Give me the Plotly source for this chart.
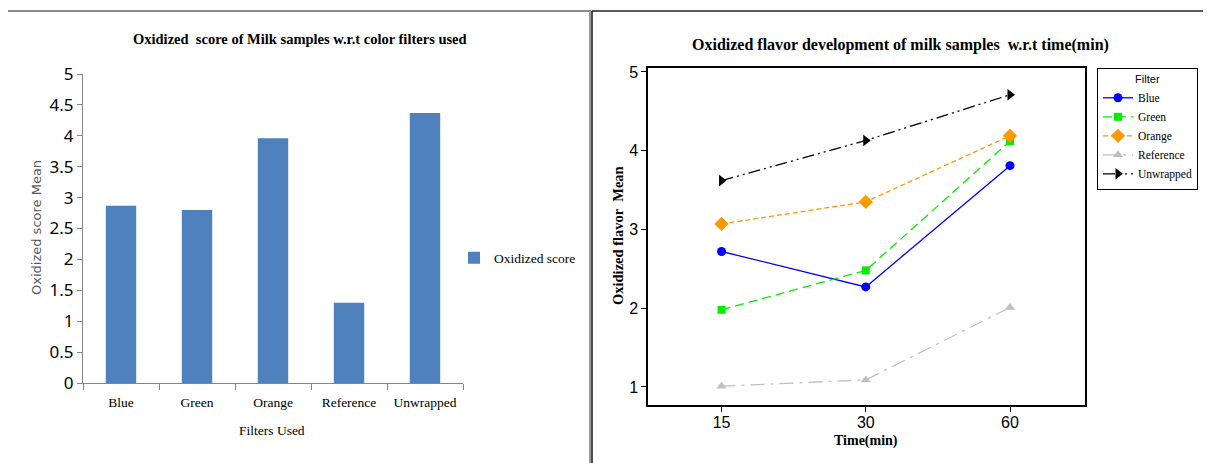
import plotly.graph_objects as go

W, H = 1211, 463
OFF = 8  # default page body margin

# ---- data ----
filters = ["Blue", "Green", "Orange", "Reference", "Unwrapped"]
oxidized_score = [2.87, 2.80, 3.96, 1.30, 4.37]

times = ["15", "30", "60"]
blue_flavor = [2.72, 2.27, 3.81]
green_flavor = [1.98, 2.48, 4.12]
orange_flavor = [3.07, 3.35, 4.19]
reference_flavor = [1.01, 1.09, 2.01]
unwrapped_flavor = [3.62, 4.13, 4.71]


def px(x):
    return (x - OFF) / W


def py(y):
    return 1 - (y - OFF) / H


SERIF = "Liberation Serif, Times New Roman, serif"
SANS = "Liberation Sans, Arial, sans-serif"
NARROW = "Liberation Sans Narrow, Liberation Sans, sans-serif"

fig = go.Figure()

# Left: bar chart
fig.add_trace(go.Bar(
    x=filters, y=oxidized_score, name="Oxidized score",
    marker=dict(color="#4F81BD", line=dict(width=0)),
    width=0.4, xaxis="x", yaxis="y", legend="legend2",
))

# Right: line chart
series = [
    ("Blue", blue_flavor, "#0000FF", "solid", "circle", 9),
    ("Green", green_flavor, "#00EE00", "9px,5px", "square", 8),
    ("Orange", orange_flavor, "#FF9900", "5px,3px", "diamond", 11),
    ("Reference", reference_flavor, "#C0C0C0", "14px,6px,3px,6px", "triangle-up", 9),
    ("Unwrapped", unwrapped_flavor, "#000000", "12px,4px,2px,4px,2px,4px", "triangle-right", 10),
]
for name, vals, col, dash, sym, sz in series:
    fig.add_trace(go.Scatter(
        x=times, y=vals, name=name, mode="lines+markers",
        line=dict(color=col, width=1.3, dash=dash),
        marker=dict(symbol=sym, size=sz, color=col),
        xaxis="x2", yaxis="y2", legend="legend",
    ))

fig.update_layout(
    width=W, height=H,
    margin=dict(l=0, r=0, t=0, b=0, autoexpand=False),
    paper_bgcolor="white", plot_bgcolor="white",
    showlegend=True,
    xaxis=dict(
        domain=[px(83), px(463)], type="category", automargin=False,
        showline=True, linecolor="#868686", linewidth=1,
        ticks="outside", ticklen=6, tickcolor="#868686", tickson="boundaries",
        ticklabelstandoff=7,
        showgrid=False, zeroline=False,
        tickfont=dict(family=SERIF, size=13.5, color="#000"),
        anchor="y",
    ),
    yaxis=dict(
        domain=[py(383), py(74)], range=[0, 5], dtick=0.5, automargin=False,
        showline=True, linecolor="#868686", linewidth=1,
        ticks="outside", ticklen=5, tickcolor="#868686",
        showgrid=False, zeroline=False,
        tickfont=dict(family="Liberation Sans Narrow, Noto Sans, sans-serif", size=17, color="#000"),
        anchor="x",
    ),
    xaxis2=dict(
        domain=[px(648), px(1085)], type="category", range=[-0.51, 2.52], automargin=False,
        showline=True, mirror=True, linecolor="#000", linewidth=1.5,
        ticks="outside", ticklen=5, tickcolor="#000",
        ticklabelstandoff=-3,
        showgrid=False, zeroline=False,
        tickfont=dict(family=NARROW, size=16, color="#000"),
        anchor="y2",
    ),
    yaxis2=dict(
        domain=[py(405), py(68)], range=[0.771, 5.05], dtick=1, automargin=False,
        showline=True, mirror=True, linecolor="#000", linewidth=1.5,
        ticks="outside", ticklen=5, tickcolor="#000",
        showgrid=False, zeroline=False,
        tickfont=dict(family=NARROW, size=16, color="#000"),
        anchor="x2",
    ),
    legend=dict(
        x=px(1097), y=py(68), xanchor="left", yanchor="top",
        bordercolor="#000", borderwidth=1, bgcolor="white",
        title=dict(text="Filter", font=dict(family=SANS, size=11, color="#000"), side="top center"),
        font=dict(family=SERIF, size=11.5, color="#000"),
        itemwidth=30, tracegroupgap=0,
    ),
    legend2=dict(
        x=px(454), y=py(258), xanchor="left", yanchor="middle",
        font=dict(family=SERIF, size=13.5, color="#000"),
        bgcolor="rgba(0,0,0,0)", borderwidth=0, itemwidth=30,
    ),
)

annotations = [
    dict(text="<b>Oxidized  score of Milk samples w.r.t color filters used</b>",
         x=px(300), y=py(39), font=dict(family=SERIF, size=14.5, color="#000")),
    dict(text="Oxidized score Mean", x=px(36), y=py(228), textangle=-90,
         font=dict(family="DejaVu Sans, Verdana, sans-serif", size=13, color="#595959")),
    dict(text="Filters Used", x=px(272), y=py(430),
         font=dict(family=SERIF, size=13.5, color="#000")),
    dict(text="<b>Oxidized flavor development of milk samples  w.r.t time(min)</b>",
         x=px(900), y=py(45), font=dict(family=SERIF, size=16, color="#000")),
    dict(text="<b>Oxidized flavor  Mean</b>", x=px(618), y=py(236), textangle=-90,
         font=dict(family=SERIF, size=14.5, color="#000")),
    dict(text="<b>Time(min)</b>", x=px(866), y=py(441),
         font=dict(family=SERIF, size=14, color="#000")),
]
for a in annotations:
    a.update(xref="paper", yref="paper", showarrow=False, xanchor="center", yanchor="middle")
fig.update_layout(annotations=annotations)

shapes = [
    # left panel border (gray)
    dict(type="line", x0=px(7), x1=px(591), y0=py(11), y1=py(11), line=dict(color="#8C8C8C", width=2)),
    dict(type="line", x0=px(7), x1=px(7), y0=py(11), y1=py(470), line=dict(color="#8C8C8C", width=2)),
    dict(type="line", x0=px(590), x1=px(590), y0=py(11), y1=py(470), line=dict(color="#9A9A9A", width=2)),
    # right panel border (dark)
    dict(type="line", x0=px(592), x1=px(1219), y0=py(11), y1=py(11), line=dict(color="#222", width=1.5)),
    dict(type="line", x0=px(592), x1=px(592), y0=py(11), y1=py(470), line=dict(color="#111", width=1.5)),
]
for s in shapes:
    s.update(xref="paper", yref="paper")
fig.update_layout(shapes=shapes)

fig.write_html("out.html")
